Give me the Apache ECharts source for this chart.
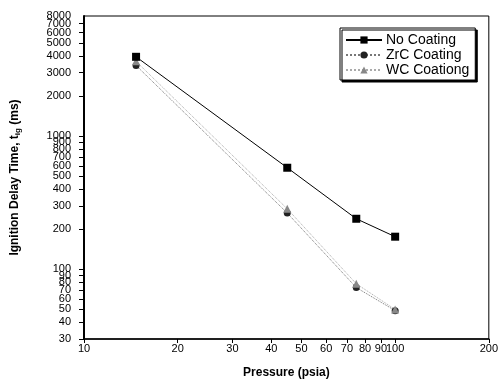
<!DOCTYPE html>
<html>
<head>
<meta charset="utf-8">
<script src="https://cdn.jsdelivr.net/npm/echarts@6/dist/echarts.min.js"></script>
<style>
  html, body { margin: 0; padding: 0; background: #fff; }
  #chart { width: 501px; height: 388px; }
</style>
</head>
<body>
<div id="chart"></div>
<script>
// Ignition delay time vs. chamber pressure, log-log
const pressure = [14.7, 45, 75, 100];          // psia
const noCoating = [3950, 580, 240, 176];       // ms
const zrcCoating = [3400, 265, 73, 49];        // ms
const wcCoating = [3650, 285, 78, 50];         // ms

const xTicks = [10, 20, 30, 40, 50, 60, 70, 80, 90, 100, 200];
const yTicks = [30, 40, 50, 60, 70, 80, 90, 100, 200, 300, 400, 500, 600, 700, 800, 900,
                1000, 2000, 3000, 4000, 5000, 6000, 7000, 8000];

const pairs = (xs, ys) => xs.map((x, i) => [x, ys[i]]);
const Y_MIN = yTicks[0];
const Y_MAX = yTicks[yTicks.length - 1];

const tickFont = {
  fontFamily: '"Liberation Sans Narrow", "Liberation Sans", Arial, sans-serif',
  fontSize: 11,
  color: '#000'
};
const fmt = v => String(Math.round(v));

const chart = echarts.init(document.getElementById('chart'), null, { renderer: 'canvas' });

chart.setOption({
  animation: false,
  backgroundColor: '#fff',
  grid: {
    left: 84, right: 10, top: 16, bottom: 49,
    show: true, borderColor: '#000', borderWidth: 1, backgroundColor: 'transparent'
  },
  legend: {
    orient: 'vertical',
    left: 340, top: 28,
    padding: [5, 6, 3, 5],
    itemGap: 1,
    itemWidth: 36,
    itemHeight: 9,
    backgroundColor: '#fff',
    borderColor: '#000',
    borderWidth: 1,
    borderRadius: 0,
    shadowColor: '#000',
    shadowBlur: 0,
    shadowOffsetX: 2,
    shadowOffsetY: 2,
    textStyle: {
      fontFamily: '"Liberation Sans", Arial, sans-serif',
      fontSize: 14,
      lineHeight: 14,
      color: '#000',
      padding: [0, 0, 0, -1]
    },
    data: ['No Coating', 'ZrC Coating', 'WC Coationg']
  },
  xAxis: {
    type: 'log',
    logBase: 10,
    min: 10,
    max: 200,
    name: 'Pressure (psia)',
    nameLocation: 'middle',
    nameGap: 28,
    nameTextStyle: {
      fontFamily: '"Liberation Sans", Arial, sans-serif',
      fontSize: 12, fontWeight: 'bold', color: '#000'
    },
    axisLine: { show: true, onZero: false, lineStyle: { color: '#000', width: 1.5 } },
    axisTick: { show: true, inside: false, length: 4, customValues: xTicks, lineStyle: { color: '#000' } },
    minorTick: { show: false },
    axisLabel: {
      ...tickFont, margin: 4, customValues: xTicks,
      showMinLabel: true, showMaxLabel: true,
      formatter: fmt
    },
    splitLine: { show: false }
  },
  yAxis: [
    {
      type: 'log',
      logBase: 10,
      min: Y_MIN,
      max: Y_MAX,
      name: '{t|Ignition Delay Time, t}{s|ig}{t| (ms)}',
      nameLocation: 'middle',
      nameGap: 62,
      nameTextStyle: {
        rich: {
          t: { fontFamily: '"Liberation Sans", Arial, sans-serif', fontSize: 12, fontWeight: 'bold', color: '#000' },
          s: { fontFamily: '"Liberation Sans", Arial, sans-serif', fontSize: 8, fontWeight: 'bold', color: '#000', verticalAlign: 'bottom', padding: [6, 0, 0, 0] }
        }
      },
      axisLine: { show: true, onZero: false, lineStyle: { color: '#000', width: 2 } },
      axisTick: { show: true, inside: false, length: 5, customValues: yTicks, lineStyle: { color: '#000' } },
      minorTick: { show: false },
      // the top label is left to the companion axis below, so the crowded
      // 6000/7000/8000 group is never thinned out
      axisLabel: {
        ...tickFont, margin: 13, customValues: yTicks,
        showMinLabel: true, showMaxLabel: false,
        formatter: fmt
      },
      splitLine: { show: false }
    },
    {
      type: 'log',
      logBase: 10,
      min: Y_MIN,
      max: Y_MAX,
      position: 'left',
      offset: 0,
      axisLine: { show: false },
      axisTick: { show: false },
      minorTick: { show: false },
      axisLabel: {
        ...tickFont, margin: 13, customValues: [Y_MAX],
        showMaxLabel: true,
        formatter: fmt
      },
      splitLine: { show: false }
    }
  ],
  series: [
    {
      name: 'No Coating',
      type: 'line',
      data: pairs(pressure, noCoating),
      symbol: 'rect',
      symbolSize: 8,
      itemStyle: { color: '#000' },
      lineStyle: { color: '#000', width: 1 },
      z: 3
    },
    {
      name: 'ZrC Coating',
      type: 'line',
      data: pairs(pressure, zrcCoating),
      symbol: 'circle',
      symbolSize: 7,
      itemStyle: { color: '#222' },
      lineStyle: { color: '#777', width: 1, type: 'dotted' },
      z: 2
    },
    {
      name: 'WC Coationg',
      type: 'line',
      data: pairs(pressure, wcCoating),
      symbol: 'triangle',
      symbolSize: 8,
      itemStyle: { color: '#888' },
      lineStyle: { color: '#aaa', width: 1, type: 'dotted' },
      z: 2
    }
  ]
});
</script>
</body>
</html>
